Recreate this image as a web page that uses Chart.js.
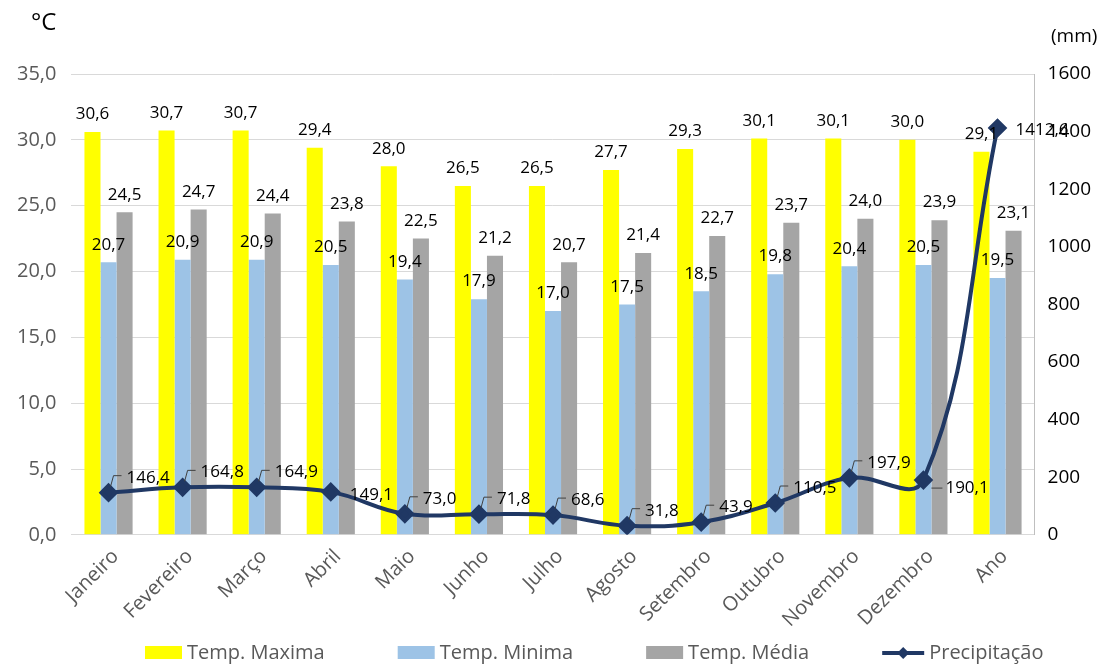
<!DOCTYPE html>
<html>
<head>
<meta charset="utf-8">
<script src="https://cdn.jsdelivr.net/npm/chart.js@4"></script>
<style>
  html, body { margin: 0; padding: 0; background: #fff; }
  #wrap { width: 1114px; height: 666px; }
</style>
</head>
<body>
<div id="wrap"><canvas id="myChart" width="1114" height="666"></canvas></div>
<script>
var meses = ['Janeiro', 'Fevereiro', 'Março', 'Abril', 'Maio', 'Junho', 'Julho', 'Agosto', 'Setembro', 'Outubro', 'Novembro', 'Dezembro', 'Ano'];
var tempMaxima = [30.6, 30.7, 30.7, 29.4, 28.0, 26.5, 26.5, 27.7, 29.3, 30.1, 30.1, 30.0, 29.1];
var tempMinima = [20.7, 20.9, 20.9, 20.5, 19.4, 17.9, 17.0, 17.5, 18.5, 19.8, 20.4, 20.5, 19.5];
var tempMedia = [24.5, 24.7, 24.4, 23.8, 22.5, 21.2, 20.7, 21.4, 22.7, 23.7, 24.0, 23.9, 23.1];
var precipitacao = [146.4, 164.8, 164.9, 149.1, 73.0, 71.8, 68.6, 31.8, 43.9, 110.5, 197.9, 190.1, 1412.6];

var fontFamily = '"Open Sans", "Noto Sans", sans-serif';

// virgula decimal
function fmt(v) {
    return v.toFixed(1).replace('.', ',');
}

// rotulos de valor, legenda e titulos das unidades
var labelsPlugin = {
    id: 'labelsPlugin',
    afterDatasetsDraw: function (chart) {
        var ctx = chart.ctx;
        ctx.save();
        ctx.font = '17px ' + fontFamily;
        ctx.fillStyle = '#000';
        ctx.textAlign = 'center';
        ctx.textBaseline = 'bottom';

        // barras
        for (var d = 0; d < 3; d++) {
            var meta = chart.getDatasetMeta(d);
            var data = chart.data.datasets[d].data;
            meta.data.forEach(function (bar, i) {
                ctx.fillText(fmt(data[i]), bar.x, bar.y - 9);
            });
        }

        // precipitacao
        var lineMeta = chart.getDatasetMeta(3);
        ctx.strokeStyle = '#404040';
        ctx.lineWidth = 1;
        ctx.textAlign = 'left';
        ctx.textBaseline = 'middle';
        lineMeta.data.forEach(function (pt, i) {
            var x = pt.x, y = pt.y;
            var txt = fmt(precipitacao[i]);
            if (i === 3) {
                ctx.fillText(txt, x + 19, y + 3);
            } else if (i === 11) {
                ctx.beginPath();
                ctx.moveTo(x + 8, y + 8);
                ctx.lineTo(x + 19, y + 8);
                ctx.stroke();
                ctx.fillText(txt, x + 22, y + 8);
            } else if (i === 12) {
                ctx.fillText(txt, x + 18, y + 2);
            } else {
                ctx.beginPath();
                ctx.moveTo(x + 2, y - 6);
                ctx.lineTo(x + 5, y - 17);
                ctx.lineTo(x + 13, y - 17);
                ctx.stroke();
                ctx.fillText(txt, x + 18, y - 15);
            }
        });

        // legenda
        ctx.font = '20px ' + fontFamily;
        ctx.textBaseline = 'middle';
        var ds = chart.data.datasets;
        var gap = 73, boxW = 37, lineW = 42, tGap = 5;
        var lx = 145;
        var ly = 653;
        ds.forEach(function (d, i) {
            if (i === 3) {
                ctx.strokeStyle = d.borderColor;
                ctx.lineWidth = 4;
                ctx.beginPath();
                ctx.moveTo(lx, ly);
                ctx.lineTo(lx + lineW, ly);
                ctx.stroke();
                ctx.fillStyle = d.borderColor;
                ctx.beginPath();
                ctx.moveTo(lx + lineW / 2, ly - 6);
                ctx.lineTo(lx + lineW / 2 + 6, ly);
                ctx.lineTo(lx + lineW / 2, ly + 6);
                ctx.lineTo(lx + lineW / 2 - 6, ly);
                ctx.closePath();
                ctx.fill();
                lx += lineW + tGap;
            } else {
                ctx.fillStyle = d.backgroundColor;
                ctx.fillRect(lx, ly - 7, boxW, 13);
                lx += boxW + tGap;
            }
            ctx.fillStyle = '#595959';
            ctx.fillText(d.label, lx, ly);
            lx += ctx.measureText(d.label).width + gap;
        });

        // unidades
        ctx.fillStyle = '#000';
        ctx.font = '24px ' + fontFamily;
        ctx.textAlign = 'left';
        ctx.textBaseline = 'alphabetic';
        ctx.fillText('°C', 31, 30);
        ctx.font = '19px ' + fontFamily;
        ctx.fillText('(mm)', 1051, 42);
        ctx.restore();
    }
};

const config = {
    type: 'bar',
    data: {
        labels: meses,
        datasets: [
            {
                label: 'Temp. Maxima',
                data: tempMaxima,
                backgroundColor: '#FFFF00',
                yAxisID: 'y',
                order: 2
            },
            {
                label: 'Temp. Minima',
                data: tempMinima,
                backgroundColor: '#9DC3E6',
                yAxisID: 'y',
                order: 2
            },
            {
                label: 'Temp. Média',
                data: tempMedia,
                backgroundColor: '#A5A5A5',
                yAxisID: 'y',
                order: 2
            },
            {
                type: 'line',
                label: 'Precipitação',
                data: precipitacao,
                yAxisID: 'y1',
                borderColor: '#203864',
                backgroundColor: '#203864',
                borderWidth: 4,
                tension: 0.4,
                pointStyle: 'rectRot',
                pointRadius: 7,
                pointHoverRadius: 7,
                fill: false,
                order: 1
            }
        ]
    },
    options: {
        responsive: false,
        animation: false,
        layout: {
            padding: { top: 74, left: 2, right: 16, bottom: 32 }
        },
        datasets: {
            bar: {
                categoryPercentage: 0.65,
                barPercentage: 1.0
            }
        },
        scales: {
            x: {
                grid: { display: false },
                border: { display: true, color: '#d9d9d9' },
                ticks: {
                    color: '#595959',
                    font: { family: fontFamily, size: 20 },
                    minRotation: 45,
                    maxRotation: 45,
                    padding: 2,
                    labelOffset: 7
                }
            },
            y: {
                position: 'left',
                min: 0,
                max: 35,
                grid: { color: '#d9d9d9', drawTicks: false, lineWidth: 1 },
                border: { display: false },
                ticks: {
                    stepSize: 5,
                    color: '#595959',
                    font: { family: fontFamily, size: 20 },
                    padding: 15,
                    callback: function (v) { return fmt(v); }
                }
            },
            y1: {
                position: 'right',
                min: 0,
                max: 1600,
                grid: { display: false, drawOnChartArea: false, drawTicks: true, tickLength: 6, color: '#bfbfbf' },
                border: { display: true, color: '#bfbfbf' },
                ticks: {
                    stepSize: 200,
                    color: '#000',
                    font: { family: fontFamily, size: 19 },
                    padding: 7,
                    callback: function (v) { return String(v); }
                }
            }
        },
        plugins: {
            tooltip: { enabled: false },
            legend: { display: false }
        }
    },
    plugins: [labelsPlugin]
};

let ctx = document.getElementById('myChart');
let grafico = new Chart(ctx, config);
</script>
</body>
</html>
